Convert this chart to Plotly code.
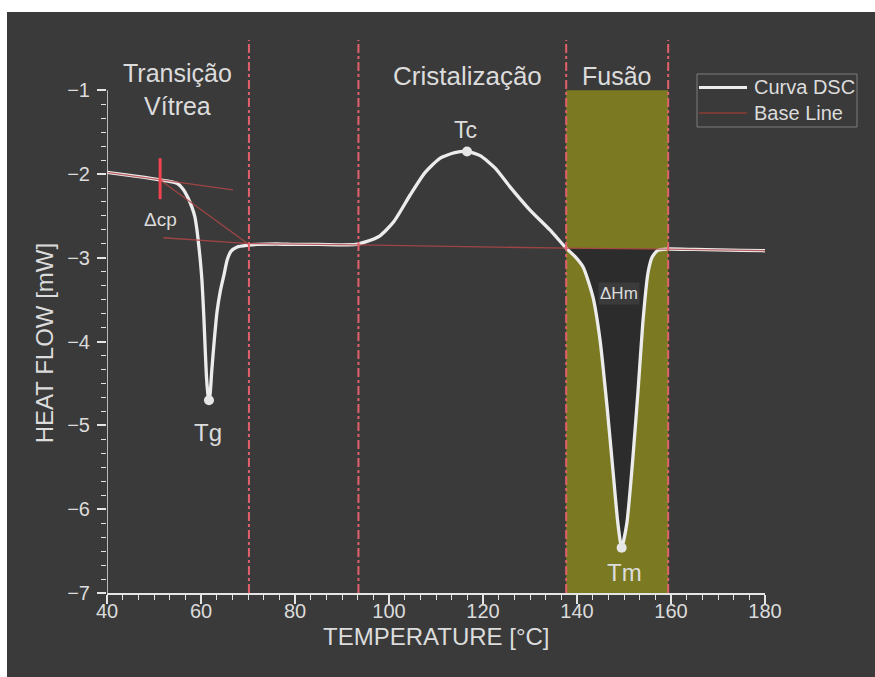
import numpy as np
import plotly.graph_objects as go

# DSC curve (temperature in °C, heat flow in mW)
temperature = [40, 44, 48, 51.3, 53, 54.9, 56.2, 57.2, 58.1, 58.7, 59.1, 59.4, 59.8,
               60.2, 60.6, 60.9, 61.2, 61.5, 61.7, 61.95, 62.3, 62.8, 63.4, 64.1, 64.9,
               65.6, 66.4, 67.7, 69.8, 72, 76, 80, 85, 90, 93, 95, 98, 101, 104.5,
               107.7, 110.9, 114, 116.6, 119.4, 122.6, 125.7, 130, 134.3, 137.7, 139.5,
               141.3, 143.4, 144.9, 146.4, 147.7, 148.7, 149.5, 150.6, 151.9, 153.0,
               154.0, 155.1, 156.0, 157.2, 159.1, 165, 170, 175, 180]
heat_flow = [-1.98, -2.01, -2.04, -2.07, -2.085, -2.11, -2.18, -2.28, -2.40, -2.51, -2.65,
             -2.79, -3.0, -3.27, -3.7, -4.1, -4.45, -4.64, -4.70, -4.62, -4.34, -4.0, -3.65,
             -3.40, -3.20, -3.02, -2.92, -2.87, -2.85, -2.84, -2.835, -2.84, -2.84, -2.845,
             -2.84, -2.81, -2.74, -2.57, -2.25, -1.98, -1.81, -1.745, -1.73, -1.78, -1.93,
             -2.15, -2.43, -2.67, -2.885, -2.98, -3.11, -3.47, -3.98, -4.78, -5.57, -6.17,
             -6.46, -6.17, -5.38, -4.58, -3.78, -3.18, -2.99, -2.91, -2.895, -2.90, -2.905,
             -2.91, -2.915]

# Base lines (tangents), segments separated by None
base_t = [40, 66.8, None, 51.3, 70.2, None, 52, 70.2, 93.5, 137.7, 159.1, 180]
base_hf = [-1.98, -2.19, None, -2.07, -2.84, None, -2.76, -2.83, -2.845, -2.885, -2.895, -2.915]

# Characteristic points
point_names = ["Tg", "Tc", "Tm"]
point_t = [61.7, 116.6, 149.5]
point_hf = [-4.70, -1.73, -6.46]

# Region boundaries
region_bounds = [70.2, 93.5, 137.7, 159.4]
melt_start, melt_end = 137.7, 159.1
melt_top = -1.0

# Δcp step marker
dcp_t = 51.3
dcp_hf = [-1.81, -2.30]

BG = "#3a3a3a"
TXT = "#dcdcdc"
AX = "#e4e4e4"
CURVE = "#ececec"
BASE_LEG = "#7a3a34"
FONT = "Arial, Liberation Sans, sans-serif"

# plot area in pixels, used to place paper-referenced decorations
L, R, T, B, W, H = 107, 110, 40, 84, 875, 677
PW, PH = W - L - R, H - T - B


def px(xp):
    return (xp - L) / PW


def py(yp):
    return (H - B - yp) / PH


fig = go.Figure()

# ΔHm area between curve and baseline
melt_t = [t for t in temperature if melt_start <= t <= melt_end]
melt_hf = [h for t, h in zip(temperature, heat_flow) if melt_start <= t <= melt_end]
fig.add_trace(go.Scatter(
    x=melt_t + [melt_end, melt_start], y=melt_hf + [-2.895, -2.885],
    fill="toself", fillcolor="#2c2c2c", mode="lines", line=dict(width=0),
    showlegend=False, hoverinfo="skip"))

fig.add_trace(go.Scatter(
    x=temperature, y=heat_flow, mode="lines", name="Curva DSC", showlegend=False,
    line=dict(color=CURVE, width=3.3, shape="spline", smoothing=0.6)))

fig.add_trace(go.Scatter(
    x=base_t, y=base_hf, mode="lines", name="Base Line", connectgaps=False, showlegend=False,
    line=dict(color="rgba(176,70,70,0.85)", width=1.3)))

fig.add_trace(go.Scatter(
    x=point_t, y=point_hf, mode="markers", showlegend=False,
    marker=dict(color="#e6e6e6", size=10)))

fig.add_trace(go.Scatter(
    x=[dcp_t, dcp_t], y=dcp_hf, mode="lines", showlegend=False,
    line=dict(color="#f0434f", width=3)))

shapes = []
# page background with white top/left edge
shapes.append(dict(type="rect", xref="paper", yref="paper", x0=px(7), x1=px(W + 10),
                   y0=py(H + 10), y1=py(12), fillcolor=BG, line=dict(width=0), layer="below"))
# melting region background
shapes.append(dict(type="rect", xref="x", yref="y", x0=region_bounds[2], x1=region_bounds[3],
                   y0=-7, y1=melt_top, fillcolor="#7b7a22", line=dict(width=0), layer="below"))
# region separators
for xb in region_bounds:
    shapes.append(dict(type="line", xref="x", yref="y", x0=xb, x1=xb, y0=-7, y1=-0.4,
                       line=dict(color="#e2606c", width=2, dash="dashdot"), layer="above"))
# y axis line, drawn only over the labelled range
shapes.append(dict(type="line", xref="x", yref="y", x0=40, x1=40, y0=-7, y1=-1,
                   line=dict(color=AX, width=1.5), layer="above"))
# legend box and samples
shapes.append(dict(type="rect", xref="paper", yref="paper", x0=px(697), x1=px(857),
                   y0=py(127), y1=py(74), line=dict(color="#7c7c7c", width=1)))
shapes.append(dict(type="line", xref="paper", yref="paper", x0=px(699), x1=px(747),
                   y0=py(87.5), y1=py(87.5), line=dict(color=CURVE, width=3)))
shapes.append(dict(type="line", xref="paper", yref="paper", x0=px(699), x1=px(747),
                   y0=py(113), y1=py(113), line=dict(color=BASE_LEG, width=2)))

annotations = [
    dict(x=55.1, y=-0.99, text="Transição<br>Vítrea", font=dict(size=25, color=TXT)),
    dict(x=116.6, y=-0.83, text="Cristalização", font=dict(size=26, color=TXT)),
    dict(x=148.4, y=-0.83, text="Fusão", font=dict(size=25, color=TXT)),
    dict(x=116.3, y=-1.48, text="Tc", font=dict(size=23, color=TXT)),
    dict(x=61.5, y=-5.08, text="Tg", font=dict(size=24, color=TXT)),
    dict(x=150.2, y=-6.76, text="Tm", font=dict(size=24, color=TXT)),
    dict(x=51.3, y=-2.54, text="Δcp", font=dict(size=19, color=TXT)),
    dict(x=149.0, y=-3.43, text="ΔHm", font=dict(size=17, color=TXT), bgcolor="#3b3b3b"),
    dict(x=px(44), xref="paper", y=-4.02, text="HEAT FLOW [mW]", textangle=-90,
         xanchor="center", font=dict(size=24, color=TXT)),
    dict(x=px(436), xref="paper", y=py(636), yref="paper", text="TEMPERATURE [°C]",
         xanchor="center", yanchor="middle", font=dict(size=24, color=TXT)),
    dict(x=px(752), xref="paper", y=py(87.5), yref="paper", text="Curva DSC",
         xanchor="left", yanchor="middle", font=dict(size=20, color=TXT)),
    dict(x=px(752), xref="paper", y=py(113), yref="paper", text="Base Line",
         xanchor="left", yanchor="middle", font=dict(size=20, color=TXT)),
]
for a in annotations:
    a.setdefault("xref", "x")
    a.setdefault("yref", "y")
    a["showarrow"] = False

y_major = [-7, -6, -5, -4, -3, -2, -1]
x_major = [40, 60, 80, 100, 120, 140, 160, 180]
y_minor = [v for v in np.arange(-7, -1 + 1e-9, 1 / 6) if min(abs(v - m) for m in y_major) > 1e-6]
x_minor = [v for v in np.arange(40, 180 + 1e-9, 20 / 6) if min(abs(v - m) for m in x_major) > 1e-6]

fig.update_layout(
    width=W, height=H,
    margin=dict(l=L, r=R, t=T, b=B),
    paper_bgcolor="white", plot_bgcolor=BG,
    font=dict(family=FONT, color=TXT),
    shapes=shapes, annotations=annotations,
    showlegend=False,
    xaxis=dict(range=[40, 180], tickvals=x_major, showgrid=False, zeroline=False,
               showline=True, linecolor=AX, linewidth=1.5,
               ticks="outside", ticklen=9, tickwidth=1.5, tickcolor=AX,
               ticklabelstandoff=-10,
               tickfont=dict(size=20, color=TXT),
               minor=dict(tickvals=x_minor, ticks="outside", ticklen=5, tickcolor=AX, tickwidth=1.2)),
    yaxis=dict(range=[-7, -0.4], tickvals=y_major, showgrid=False, zeroline=False,
               showline=False,
               ticks="outside", ticklen=9, tickwidth=1.5, tickcolor=AX,
               ticklabelstandoff=3,
               tickfont=dict(size=20, color=TXT),
               minor=dict(tickvals=y_minor, ticks="outside", ticklen=5, tickcolor=AX, tickwidth=1.2)),
)

fig.write_html("out.html")
